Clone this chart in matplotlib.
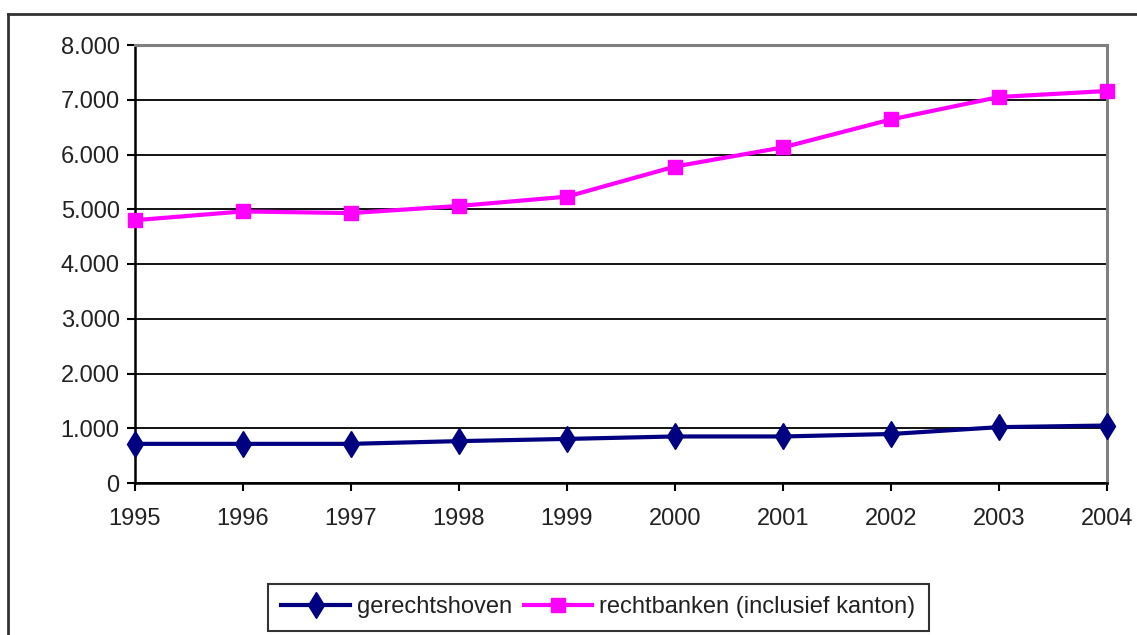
import matplotlib
matplotlib.use("Agg")
import matplotlib.pyplot as plt
from matplotlib.ticker import FuncFormatter, MultipleLocator
from matplotlib.lines import Line2D

years = [1995, 1996, 1997, 1998, 1999, 2000, 2001, 2002, 2003, 2004]
gerechtshoven = [715, 715, 715, 765, 805, 850, 850, 895, 1020, 1050]
rechtbanken = [4800, 4960, 4930, 5060, 5230, 5780, 6130, 6640, 7050, 7160]
labels = ["gerechtshoven", "rechtbanken (inclusief kanton)"]

plt.rcParams['font.family'] = ['Liberation Sans', 'DejaVu Sans']

W, H = 1137, 635
fig = plt.figure(figsize=(W / 100, H / 100), dpi=100)
fig.patch.set_facecolor('white')

left, right, top, bottom = 135, 1107, 45, 483
ax = fig.add_axes([left / W, 1 - bottom / H, (right - left) / W, (bottom - top) / H])

ax.plot(years, gerechtshoven, color='#000080', lw=3, marker='d', ms=13,
        mfc='#000080', mec='#000080', clip_on=False, zorder=5, label=labels[0])
ax.plot(years, rechtbanken, color='#FF00FF', lw=3, marker='s', ms=10,
        mfc='#FF00FF', mec='#FF00FF', clip_on=False, zorder=5, label=labels[1])

ax.set_xlim(1995, 2004)
ax.set_ylim(0, 8000)
ax.set_xticks(years)
ax.set_xticklabels([str(y) for y in years])
ax.yaxis.set_major_locator(MultipleLocator(1000))
ax.yaxis.set_major_formatter(FuncFormatter(lambda v, p: f"{int(v):,}".replace(",", ".")))
ax.grid(axis='y', color='black', lw=1.3)
ax.set_axisbelow(True)

for s in ['top', 'right']:
    ax.spines[s].set_color('#808080')
    ax.spines[s].set_linewidth(2.2)
for s in ['left', 'bottom']:
    ax.spines[s].set_color('black')
    ax.spines[s].set_linewidth(1.8)

ax.tick_params(axis='both', direction='out', length=6, width=1.5, colors='black',
               labelsize=17, labelcolor='#222222')
ax.tick_params(axis='x', pad=12)
ax.tick_params(axis='y', pad=5)

leg = fig.legend(loc='center', bbox_to_anchor=(598.5 / W, 1 - 607.5 / H),
                 ncol=2, frameon=True, fancybox=False, fontsize=17,
                 handlelength=2.9, handletextpad=0.3, columnspacing=0.5,
                 borderpad=0.55, edgecolor='black', labelcolor='#222222')
leg.get_frame().set_linewidth(1.5)

# outer chart frame
fig.add_artist(Line2D([8 / W, 8 / W], [0, 1 - 14 / H], transform=fig.transFigure,
                      color='#333333', lw=2))
fig.add_artist(Line2D([8 / W, 1], [1 - 14 / H, 1 - 14 / H], transform=fig.transFigure,
                      color='#333333', lw=2))

fig.savefig("out.png", dpi=100)
